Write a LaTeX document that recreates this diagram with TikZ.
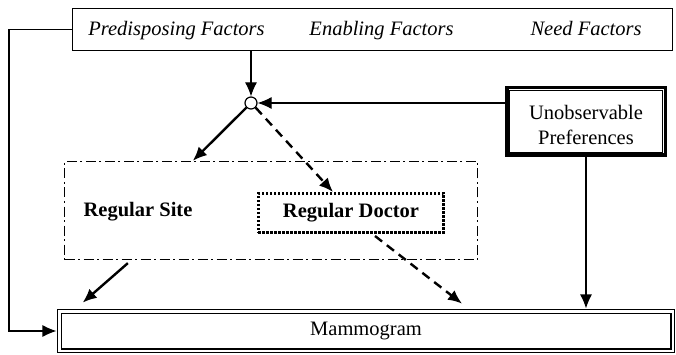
\documentclass[tikz,border=0pt]{standalone}
\usepackage{fontspec}
\setmainfont{Liberation Serif}
\usetikzlibrary{arrows.meta}
\tikzset{%
  >={Latex[width=12pt,length=14pt]},
  % Specifications for style of nodes:
          base/.style = {rectangle, draw=black, inner sep=0pt,
                         text centered, font=\fontsize{20.5}{25}\selectfont},
    factorsBox/.style = {base, line width=1.4pt,
                         minimum width=599.6pt, minimum height=41.6pt},
    factorText/.style = {inner sep=0pt, anchor=base,
                         font=\fontsize{20.5}{25}\selectfont\itshape},
      unobsBox/.style = {base, line width=3.5pt, align=center,
                         minimum width=158.5pt, minimum height=67.5pt},
       siteBox/.style = {base, line width=1.3pt,
                         dash pattern=on 10pt off 3.5pt on 2pt off 3.5pt,
                         minimum width=413pt, minimum height=98pt},
     doctorBox/.style = {base, line width=2.8pt, dash pattern=on 2.5pt off 1.5pt,
                         font=\fontsize{20.5}{25}\selectfont\bfseries,
                         minimum width=185.2pt, minimum height=39.2pt},
      siteText/.style = {inner sep=0pt, font=\fontsize{20.5}{25}\selectfont\bfseries},
     mammoBox/.style = {base, line width=1.2pt, double, double distance=2.5pt,
                         minimum width=613.5pt, minimum height=39.5pt},
      junction/.style = {circle, draw=black, line width=1.2pt, fill=white,
                         inner sep=0pt, minimum size=12pt},
  % Specifications for style of lines:
      thinLine/.style = {line width=1.1pt},
     thickLine/.style = {line width=2.4pt},
    dashedLine/.style = {line width=2.4pt, dash pattern=on 9pt off 6pt},
}

\begin{document}
\begin{tikzpicture}[x=1pt, y=-1pt]
  \useasboundingbox (0,0) rectangle (676,355);
  % Specification of nodes (position, etc.)
  \node (factors)  [factorsBox] at (372.5,29.5) {};
  \node (predisp)  [factorText] at (176.5,35.5) {Predisposing Factors};
  \node (enabling) [factorText] at (381.5,35.5) {Enabling Factors};
  \node (need)     [factorText] at (586,35.5)   {Need Factors};

  \node (join)     [junction]   at (251,103)    {};
  \node (unobs)    [unobsBox]   at (586,121.5)  {};
  \node (unobstext) [inner sep=0pt, align=center, font=\fontsize{20.5}{25}\selectfont]
                    at (586,125) {Unobservable\\Preferences};
  \draw[thinLine] ([shift={(4.25pt,4.25pt)}]unobs.south west)
     rectangle ([shift={(-4.25pt,-4.25pt)}]unobs.north east);

  \node (site)     [siteBox]    at (271,210.5)  {};
  \node (sitetext) [siteText]   at (138,212)    {Regular Site};
  \node (doctor)   [doctorBox]  at (351,213)    {Regular Doctor};

  \node (mammo)    [mammoBox]   at (366,331)    {Mammogram};
  \coordinate (leftline) at (9,0);

  % Specification of lines between nodes specified above
  \draw[->, thinLine] (join |- factors.south) -- (join);
  \draw[->, thinLine] (unobs.west |- join) -- (join);
  \draw[->, thinLine] (unobs.south) -- ([yshift=2.2pt]unobs.south |- mammo.north);
  \draw[->, thinLine] (factors.west) -- (factors.west -| leftline) |- ([xshift=-2.2pt]mammo.west);

  \draw[->, thickLine]  (join.south west) -- ([xshift=129pt]site.north west);
  \draw[->, dashedLine] (join.south east) -- ([xshift=76pt]doctor.north west);
  \draw[->, thickLine]  ([xshift=64pt,yshift=-3pt]site.south west)
                     -- ([xshift=24pt,yshift=8pt]mammo.north west);
  \draw[->, dashedLine] ([xshift=24pt,yshift=-2pt]doctor.south)
                     -- ([xshift=96pt,yshift=7pt]mammo.north);
\end{tikzpicture}
\end{document}
